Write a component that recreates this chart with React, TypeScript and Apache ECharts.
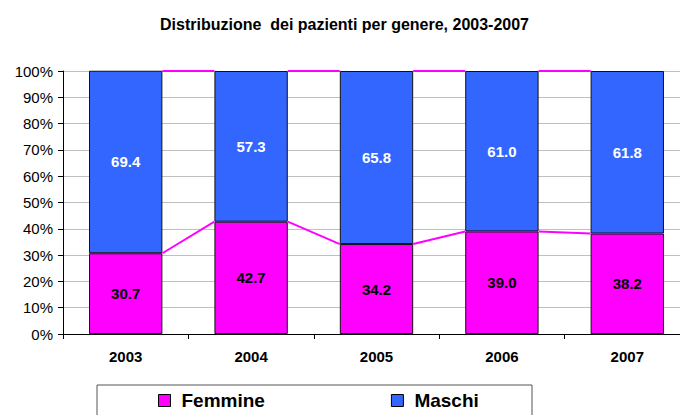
import React, { useEffect, useRef } from "react";
import * as echarts from "echarts";

const years = ["2003", "2004", "2005", "2006", "2007"];
const femmine = [30.7, 42.7, 34.2, 39.0, 38.2];
const maschi = [69.4, 57.3, 65.8, 61.0, 61.8];
const yTicks = { min: 0, max: 100, interval: 10 };

const FONT = "'Liberation Sans', Arial, sans-serif";
const MAGENTA = "#FF00FF";
const BLUE = "#3366FF";
const BAR_RATIO = 0.585;

export default function App() {
  const ref = useRef<HTMLDivElement>(null);
  useEffect(() => {
    if (!ref.current) return;
    const chart = echarts.init(ref.current, undefined, { renderer: "svg" });
    const lineData = years.slice(0, -1).map((_, i) => [i, femmine[i], femmine[i + 1]]);
    chart.setOption({
      animation: false,
      title: {
        text: "Distribuzione  dei pazienti per genere, 2003-2007",
        left: 155,
        top: 11,
        textStyle: { fontFamily: FONT, fontSize: 16, fontWeight: "bold", color: "#000" },
      },
      graphic: [
        {
          type: "rect",
          shape: { x: 97, y: 385, width: 435, height: 45 },
          style: { fill: "#fff", stroke: "#555", lineWidth: 1 },
          silent: true,
        },
      ],
      legend: {
        left: 158,
        top: 391,
        padding: 0,
        itemWidth: 12,
        itemHeight: 12,
        itemGap: 126,
        icon: "rect",
        data: [
          { name: "Femmine", itemStyle: { color: MAGENTA, borderColor: "#000", borderWidth: 1 } },
          { name: "Maschi", itemStyle: { color: BLUE, borderColor: "#000", borderWidth: 1 } },
        ],
        textStyle: { fontFamily: FONT, fontSize: 19, fontWeight: "bold", color: "#000", padding: [0, 0, 0, 6] },
      },
      grid: { left: 63, width: 627, top: 71, bottom: 81, outerBoundsMode: "none", containLabel: false },
      xAxis: {
        type: "category",
        data: years,
        axisLine: { show: true, lineStyle: { color: "#000", width: 1 } },
        axisTick: { show: true, length: 5, alignWithLabel: false, lineStyle: { color: "#000" } },
        axisLabel: { fontFamily: FONT, fontSize: 15, fontWeight: "bold", color: "#000", margin: 15 },
      },
      yAxis: {
        type: "value",
        min: yTicks.min,
        max: yTicks.max,
        interval: yTicks.interval,
        axisLine: { show: true, lineStyle: { color: "#000", width: 1 } },
        axisTick: { show: true, length: 5, lineStyle: { color: "#000" } },
        axisLabel: { fontFamily: FONT, fontSize: 15, color: "#000", margin: 10, formatter: "{value}%" },
        splitLine: { show: true, lineStyle: { color: "#c0c0c0", width: 1 } },
      },
      series: [
        {
          name: "Femmine",
          type: "bar",
          stack: "tot",
          barWidth: BAR_RATIO * 100 + "%",
          data: femmine,
          itemStyle: { color: MAGENTA, borderColor: "#111", borderWidth: 1 },
          label: {
            show: true,
            position: "inside",
            formatter: (p: any) => p.value.toFixed(1),
            fontFamily: FONT,
            fontSize: 15,
            fontWeight: "bold",
            color: "#000",
          },
        },
        {
          name: "Maschi",
          type: "bar",
          stack: "tot",
          data: maschi,
          itemStyle: { color: BLUE, borderColor: "#111", borderWidth: 1 },
          label: {
            show: true,
            position: "inside",
            formatter: (p: any) => p.value.toFixed(1),
            fontFamily: FONT,
            fontSize: 15,
            fontWeight: "bold",
            color: "#fff",
          },
        },
        {
          type: "custom",
          name: "serieslines",
          data: lineData,
          z: 5,
          renderItem: (params: any, api: any) => {
            const i = api.value(0);
            const a = api.value(1);
            const b = api.value(2);
            const band = api.size([1, 0])[0];
            const half = (band * BAR_RATIO) / 2;
            const p1 = api.coord([i, a]);
            const p2 = api.coord([i + 1, b]);
            const t1 = api.coord([i, yTicks.max]);
            const t2 = api.coord([i + 1, yTicks.max]);
            const style = { stroke: MAGENTA, lineWidth: 2 };
            return {
              type: "group",
              children: [
                { type: "line", shape: { x1: p1[0] + half, y1: p1[1], x2: p2[0] - half, y2: p2[1] }, style },
                { type: "line", shape: { x1: t1[0] + half, y1: t1[1], x2: t2[0] - half, y2: t2[1] }, style },
              ],
            };
          },
        },
      ],
    });
    return () => chart.dispose();
  }, []);
  return <div ref={ref} style={{ width: 680, height: 415, position: "absolute", left: 0, top: 0 }} />;
}
